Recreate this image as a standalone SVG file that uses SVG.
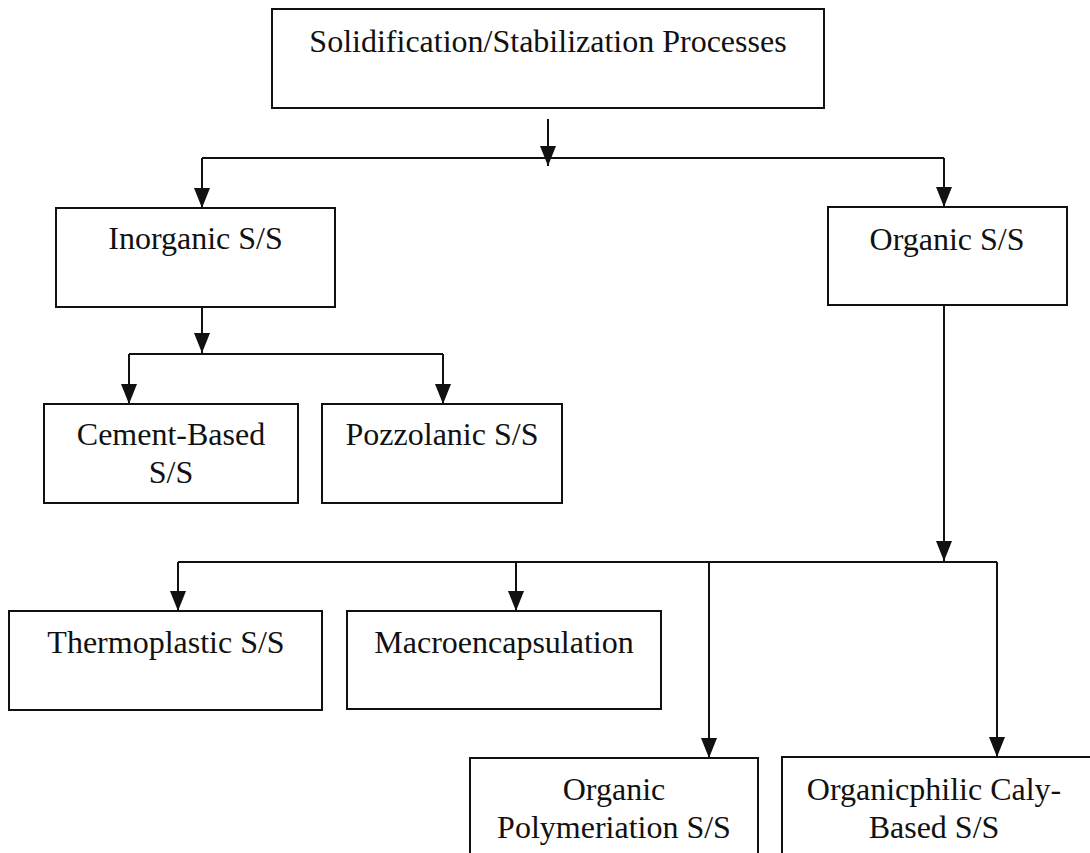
<svg xmlns="http://www.w3.org/2000/svg" width="1090" height="853" viewBox="0 0 1090 853">
<style>
.box{fill:#fff;stroke:#111;stroke-width:2}
.t{font-family:"Liberation Serif","Times New Roman",serif;font-size:32px;fill:#111;text-anchor:middle}
.c{fill:none;stroke:#111;stroke-width:2}
</style>
<defs>
<marker id="ah" viewBox="0 0 20 16" refX="20" refY="8" markerWidth="20" markerHeight="16" markerUnits="userSpaceOnUse" orient="auto">
<path d="M0,0 L20,8 L0,16 z" fill="#111"/>
</marker>
</defs>
<rect width="1090" height="853" fill="#fff"/>
<g id="connectors">
<path class="c" d="M548,119 V166" marker-end="url(#ah)"/>
<path class="c" d="M202,158 H944"/>
<path class="c" d="M202,158 V208" marker-end="url(#ah)"/>
<path class="c" d="M944,158 V207" marker-end="url(#ah)"/>
<path class="c" d="M202,307 V353" marker-end="url(#ah)"/>
<path class="c" d="M129,354 H443"/>
<path class="c" d="M129,354 V404" marker-end="url(#ah)"/>
<path class="c" d="M443,354 V404" marker-end="url(#ah)"/>
<path class="c" d="M944,305 V561" marker-end="url(#ah)"/>
<path class="c" d="M178,562 H997"/>
<path class="c" d="M178,562 V611" marker-end="url(#ah)"/>
<path class="c" d="M516,562 V611" marker-end="url(#ah)"/>
<path class="c" d="M709,562 V758" marker-end="url(#ah)"/>
<path class="c" d="M997,562 V757" marker-end="url(#ah)"/>
</g>
<g id="root">
<rect class="box" x="272" y="9" width="552" height="99"/>
<text class="t" x="548" y="52">Solidification/Stabilization Processes</text>
</g>
<g id="inorganic">
<rect class="box" x="56" y="208" width="279" height="99"/>
<text class="t" x="195.5" y="249">Inorganic S/S</text>
</g>
<g id="organic">
<rect class="box" x="828" y="207" width="239" height="98"/>
<text class="t" x="947" y="250">Organic S/S</text>
</g>
<g id="cement">
<rect class="box" x="44" y="404" width="254" height="99"/>
<text class="t" x="171" y="445">Cement-Based</text>
<text class="t" x="171" y="483">S/S</text>
</g>
<g id="pozzolanic">
<rect class="box" x="322" y="404" width="240" height="99"/>
<text class="t" x="442" y="445">Pozzolanic S/S</text>
</g>
<g id="thermoplastic">
<rect class="box" x="9" y="611" width="313" height="99"/>
<text class="t" x="166" y="653">Thermoplastic S/S</text>
</g>
<g id="macro">
<rect class="box" x="347" y="611" width="314" height="98"/>
<text class="t" x="504" y="653">Macroencapsulation</text>
</g>
<g id="polymer">
<rect class="box" x="470" y="758" width="288" height="120"/>
<text class="t" x="614" y="800">Organic</text>
<text class="t" x="614" y="838">Polymeriation S/S</text>
</g>
<g id="organicphilic">
<rect class="box" x="782" y="757" width="320" height="120"/>
<text class="t" x="934" y="800">Organicphilic Caly-</text>
<text class="t" x="934" y="838">Based S/S</text>
</g>
</svg>
